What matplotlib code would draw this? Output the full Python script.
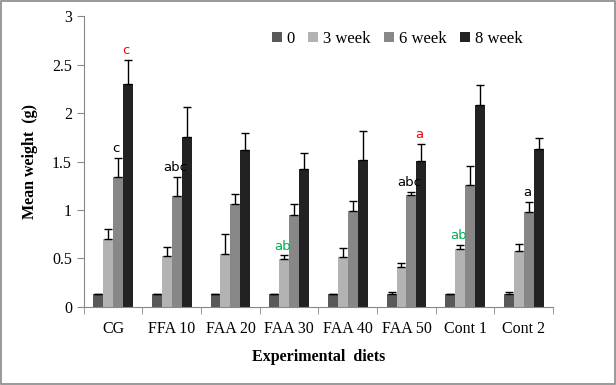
import matplotlib
matplotlib.use("Agg")
import matplotlib.pyplot as plt
import numpy as np

diets = ["CG", "FFA 10", "FAA 20", "FAA 30", "FAA 40", "FAA 50", "Cont 1", "Cont 2"]
series = ["0", "3 week", "6 week", "8 week"]

w0 = [0.13, 0.13, 0.13, 0.13, 0.13, 0.13, 0.13, 0.13]
w3 = [0.70, 0.52, 0.55, 0.49, 0.51, 0.41, 0.60, 0.58]
w6 = [1.34, 1.14, 1.06, 0.95, 0.99, 1.15, 1.26, 0.98]
w8 = [2.30, 1.75, 1.62, 1.42, 1.52, 1.51, 2.08, 1.63]

e0 = [0.005, 0.005, 0.005, 0.005, 0.005, 0.02, 0.005, 0.02]
e3 = [0.10, 0.10, 0.20, 0.04, 0.10, 0.04, 0.04, 0.07]
e6 = [0.20, 0.20, 0.10, 0.11, 0.10, 0.04, 0.19, 0.10]
e8 = [0.25, 0.31, 0.17, 0.17, 0.30, 0.17, 0.21, 0.11]

colors = ["#595959", "#b3b3b3", "#878787", "#222222"]

# letters: (diet index, series index, text, colour)
letters = [(0, 3, "c", "red"), (0, 2, "c", "black"), (1, 2, "abc", "black"),
           (3, 1, "ab", "#00b050"), (5, 3, "a", "red"), (5, 2, "abc", "black"),
           (6, 1, "ab", "#00b050"), (7, 2, "a", "black")]

serif = "Liberation Serif"

fig = plt.figure(figsize=(6.16, 3.85), dpi=100)
ax = fig.add_axes([0.136, 0.203, 0.762, 0.755])

vals = [w0, w3, w6, w8]
errs = [e0, e3, e6, e8]
x = np.arange(len(diets))
bw = 0.17
for i in range(4):
    ax.bar(x + (i - 1.5) * bw, vals[i], bw, color=colors[i], label=series[i],
           yerr=[np.zeros(len(diets)), errs[i]], capsize=3,
           error_kw=dict(elinewidth=1, capthick=1, ecolor="black"))

for d, s, t, c in letters:
    top = vals[s][d] + errs[s][d]
    ax.text(x[d] + (s - 1.5) * bw - 0.03, top + 0.03, t, color=c, ha="center", va="bottom",
            fontsize=9.5, family="DejaVu Sans")

ax.set_xlim(-0.5, len(diets) - 0.5)
ax.set_ylim(0, 3)
ax.set_yticks([0, 0.5, 1, 1.5, 2, 2.5, 3])
ax.set_yticklabels(["0", "0.5", "1", "1.5", "2", "2.5", "3"], family=serif, fontsize=11.5)
ax.set_xticks(x)
ax.set_xticklabels(diets, family=serif, fontsize=11.5)
ax.tick_params(axis="x", length=0, pad=10)
ax.set_xticks(np.arange(len(diets) + 1) - 0.5, minor=True)
ax.tick_params(axis="x", which="minor", length=5, color="#888888")
ax.tick_params(axis="y", length=5, color="#888888")
for sp in ["top", "right"]:
    ax.spines[sp].set_visible(False)
for sp in ["left", "bottom"]:
    ax.spines[sp].set_color("#888888")

ax.set_xlabel("Experimental  diets", family=serif, fontsize=11.5, fontweight="bold", labelpad=9)
ax.set_ylabel("Mean weight  (g)", family=serif, fontsize=11.5, fontweight="bold", labelpad=10)

ax.legend(loc="upper right", bbox_to_anchor=(0.935, 0.95), ncol=4, frameon=False,
          borderaxespad=0, borderpad=0,
          prop=dict(family=serif, size=12), handlelength=0.6, handleheight=0.6,
          handletextpad=0.3, columnspacing=0.8)

fig.patches.append(plt.Rectangle((0.002, 0.003), 0.996, 0.994, transform=fig.transFigure,
                                 fill=False, edgecolor="#888888", linewidth=1.2))

fig.savefig("out.png", dpi=100)
